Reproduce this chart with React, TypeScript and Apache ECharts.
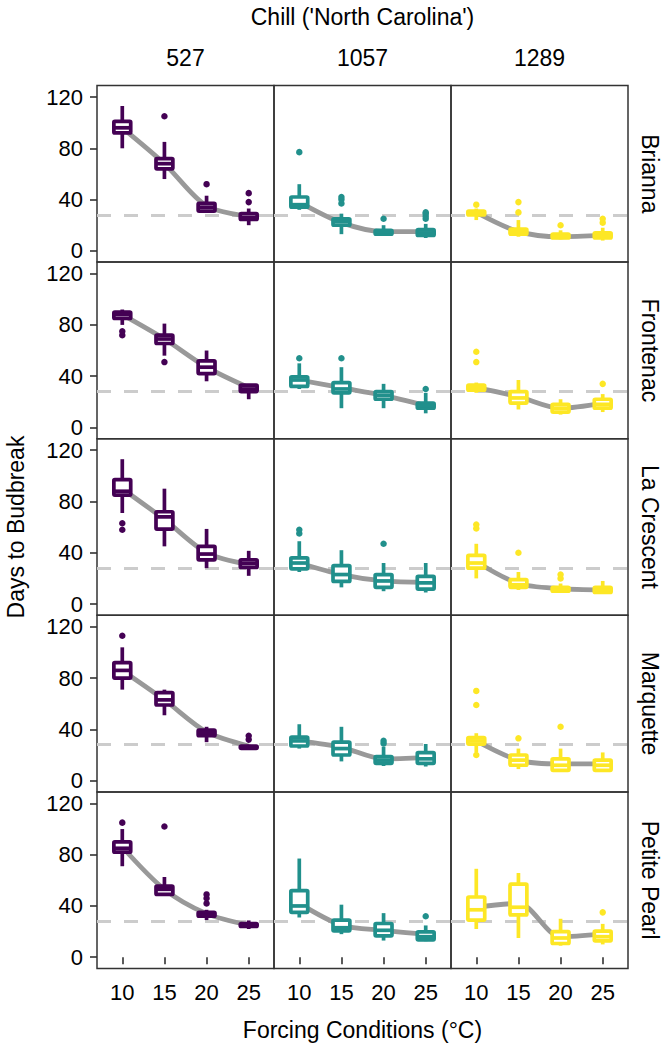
import React, { useEffect, useRef } from "react";
import * as echarts from "echarts";

const cultivars = ["Brianna", "Frontenac", "La Crescent", "Marquette", "Petite Pearl"];
const chills = ["527", "1057", "1289"];
const forcing = ["10", "15", "20", "25"];
const chillColors = ["#440154", "#21908C", "#FDE725"];
const yTicks = [0, 40, 80, 120];
const refDays = 28;

// box stats per panel: [min, q1, median, q3, max] for each forcing level; outer index = chill
const briannaBox = [
  [[80, 92, 96, 101, 113], [56, 64, 68, 72, 85], [30, 31, 34, 37, 43], [20, 24.5, 26, 29, 33]],
  [[32, 34, 36, 42, 52], [13, 20, 23, 25, 29], [12, 13, 15, 16, 20], [10, 12, 14, 16.5, 21]],
  [[24, 28, 30, 31, 33], [11, 13, 15, 17, 24], [9, 10, 11, 13, 16], [8, 10, 12, 14, 18]],
];
const briannaOut = [
  [["15", 105], ["20", 52], ["25", 38], ["25", 45]],
  [["10", 77], ["15", 37], ["15", 40], ["15", 42], ["20", 25], ["25", 25], ["25", 27], ["25", 29], ["25", 30]],
  [["10", 36], ["15", 30], ["15", 38], ["20", 20], ["25", 22], ["25", 25]],
];
const briannaLine = [[96, 68, 35, 27], [38, 22, 15, 15], [30, 15, 11, 12]];

const frontenacBox = [
  [[80, 85, 88, 90, 92], [56, 65.5, 69, 72, 81], [36, 42, 47, 52, 60], [22, 28, 30, 33, 33]],
  [[30, 32, 37, 39.5, 50], [15, 27, 30, 35, 47], [15, 22, 25, 28, 34], [11, 15, 17, 19, 27]],
  [[27, 29, 31, 33, 35], [14, 19, 23, 28, 37], [10, 12, 15, 18, 22], [12, 15, 18, 22, 26]],
];
const frontenacOut = [
  [["10", 72], ["10", 75], ["15", 51]],
  [["10", 54], ["15", 54], ["25", 30]],
  [["10", 51], ["10", 59], ["25", 34]],
];
const frontenacLine = [[88, 69, 47, 31], [37, 31, 25, 17], [31, 24, 15, 19]];

const laCrescentBox = [
  [[71, 85, 88, 97, 113], [45, 58.5, 68, 72, 90], [28, 34.5, 39, 45, 58.6], [22, 28.5, 31.5, 34.5, 41.5]],
  [[25, 27.5, 32, 36, 49], [13, 17.6, 23, 30, 42], [10, 13, 18, 23, 32], [9, 11.7, 16.5, 21.5, 32]],
  [[20, 28, 32, 38, 47], [11, 13, 15, 19, 25], [9, 10, 11, 13, 16], [8, 9, 11, 13, 18]],
];
const laCrescentOut = [
  [["10", 58], ["10", 63]],
  [["10", 55], ["10", 58], ["20", 47]],
  [["10", 59], ["10", 62], ["15", 40], ["20", 20], ["20", 23]],
];
const laCrescentLine = [[90, 66, 40, 31], [32, 23, 18, 17], [33, 16, 12, 11]];

const marquetteBox = [
  [[71, 80, 86, 92, 104], [51, 59, 63, 68.6, 71], [30, 35, 37.5, 39.5, 42], [24.5, 25.2, 26, 27, 28]],
  [[25, 27, 31, 34, 44], [15, 20, 25, 30, 42], [11.4, 13.5, 16, 18.7, 26.5], [11, 13.5, 17, 21.8, 28.6]],
  [[22, 28.5, 31, 33.5, 37], [9, 12, 16, 20, 25], [7, 8, 12, 17, 25], [7, 8, 12, 16, 22]],
];
const marquetteOut = [
  [["10", 113], ["25", 32], ["25", 35]],
  [["20", 29], ["20", 31]],
  [["10", 20], ["10", 59], ["10", 70], ["15", 33], ["20", 42]],
];
const marquetteLine = [[86, 63, 38, 27], [31, 26, 17, 18], [31, 16, 13, 13]];

const petitePearlBox = [
  [[71, 82, 85, 90, 100], [48, 49, 53, 55.5, 62.6], [29, 32, 33, 35, 37], [22, 24, 25, 26.3, 28.7]],
  [[31, 35, 40, 52, 77], [18, 20.6, 23, 29, 41], [13, 16.7, 21, 26.3, 34.4], [12.5, 13.6, 16, 19.8, 24.8]],
  [[22, 29, 37, 47, 69], [15, 33, 39, 57, 65.7], [9, 10.7, 15, 20, 30], [10, 12.8, 16, 20.3, 26]],
];
const petitePearlOut = [
  [["10", 105], ["15", 102], ["20", 42], ["20", 46], ["20", 49]],
  [["25", 32]],
  [["25", 35]],
];
const petitePearlLine = [[86, 53, 34, 25], [42, 25, 21, 18], [39, 42, 16, 18]];

const allBoxes = [briannaBox, frontenacBox, laCrescentBox, marquetteBox, petitePearlBox];
const allOut = [briannaOut, frontenacOut, laCrescentOut, marquetteOut, petitePearlOut];
const allLines = [briannaLine, frontenacLine, laCrescentLine, marquetteLine, petitePearlLine];

const FONT = "Liberation Sans";
const GRID_LEFT = 97;
const GRID_TOP = 85.5;
const PANEL_W = 177;
const PANEL_H = 176.6;
const BOX_W = 0.4;
const LW = 3.7;

function makeRender(color: string) {
  return (params: any, api: any) => {
    const x = api.value(0);
    const pLo = api.coord([x, api.value(1)]);
    const cx = pLo[0];
    const yLo = pLo[1];
    const yQ1 = api.coord([x, api.value(2)])[1];
    const yMed = api.coord([x, api.value(3)])[1];
    const yQ3 = api.coord([x, api.value(4)])[1];
    const yHi = api.coord([x, api.value(5)])[1];
    const half = api.size([BOX_W, 0])[0] / 2;
    const st = { stroke: color, lineWidth: LW, lineJoin: "round", lineCap: "butt" };
    return {
      type: "group",
      children: [
        { type: "line", shape: { x1: cx, y1: yHi, x2: cx, y2: yQ3 }, style: st },
        { type: "line", shape: { x1: cx, y1: yQ1, x2: cx, y2: yLo }, style: st },
        {
          type: "rect",
          shape: { x: cx - half, y: yQ3, width: half * 2, height: yQ1 - yQ3, r: 1 },
          style: { ...st, fill: "#ffffff" },
        },
        { type: "line", shape: { x1: cx - half, y1: yMed, x2: cx + half, y2: yMed }, style: st },
      ],
    };
  };
}

function buildOption() {
  const grids: any[] = [];
  const xAxes: any[] = [];
  const yAxes: any[] = [];
  const series: any[] = [];
  const graphics: any[] = [];

  cultivars.forEach((cv, r) => {
    chills.forEach((ch, c) => {
      const gi = r * 3 + c;
      grids.push({
        left: GRID_LEFT + c * PANEL_W,
        top: GRID_TOP + r * PANEL_H,
        width: PANEL_W,
        height: PANEL_H,
        show: true,
        borderColor: "#333333",
        borderWidth: 1.5,
        backgroundColor: "transparent",
        containLabel: false,
      });
      const bottomRow = r === cultivars.length - 1;
      xAxes.push({
        type: "value",
        gridIndex: gi,
        min: 0.4,
        max: 4.6,
        axisLine: { show: false },
        splitLine: { show: false },
        axisTick: {
          show: bottomRow,
          length: 7,
          customValues: [1, 2, 3, 4],
          lineStyle: { color: "#333333", width: 1.6 },
        },
        axisLabel: {
          show: bottomRow,
          customValues: [1, 2, 3, 4],
          formatter: (v: number) => forcing[Math.round(v) - 1] ?? "",
          fontSize: 22,
          fontFamily: FONT,
          color: "#000000",
          margin: 13,
        },
      });
      yAxes.push({
        type: "value",
        gridIndex: gi,
        min: -8.8,
        max: 129,
        axisLine: { show: false },
        splitLine: { show: false },
        axisTick: {
          show: c === 0,
          length: 7,
          customValues: yTicks,
          lineStyle: { color: "#333333", width: 1.6 },
        },
        axisLabel: {
          show: c === 0,
          customValues: yTicks,
          fontSize: 22,
          fontFamily: FONT,
          color: "#000000",
          margin: 14,
        },
      });
      const color = chillColors[c];
      series.push({
        type: "line",
        xAxisIndex: gi,
        yAxisIndex: gi,
        data: allLines[r][c].map((v, i) => [i + 1, v]),
        smooth: 0.3,
        showSymbol: false,
        symbol: "none",
        z: 2,
        lineStyle: { color: "#999999", width: 4.8 },
        silent: true,
        markLine: {
          silent: true,
          z: 1,
          symbol: ["none", "none"],
          label: { show: false },
          lineStyle: { color: "#cccccc", width: 3, type: [14, 13] },
          data: [{ yAxis: refDays }],
        },
      });
      series.push({
        type: "custom",
        xAxisIndex: gi,
        yAxisIndex: gi,
        z: 3,
        renderItem: makeRender(color),
        encode: { x: 0, y: [1, 2, 3, 4, 5] },
        data: allBoxes[r][c].map((b, i) => [i + 1, ...b]),
        silent: true,
      });
      series.push({
        type: "scatter",
        xAxisIndex: gi,
        yAxisIndex: gi,
        z: 4,
        symbolSize: 6.5,
        itemStyle: { color, opacity: 1 },
        data: allOut[r][c].map(([f, v]) => [forcing.indexOf(f as string) + 1, v]),
        silent: true,
      });
    });
  });

  const panelsRight = GRID_LEFT + PANEL_W * 3;
  const panelsBottom = GRID_TOP + PANEL_H * cultivars.length;
  const centerX = GRID_LEFT + (PANEL_W * 3) / 2;

  graphics.push({
    type: "text",
    x: centerX,
    y: 17,
    style: { text: "Chill ('North Carolina')", fontSize: 23, fontFamily: FONT, fill: "#000", align: "center", verticalAlign: "middle" },
  });
  chills.forEach((ch, c) => {
    graphics.push({
      type: "text",
      x: GRID_LEFT + c * PANEL_W + PANEL_W / 2,
      y: 58,
      style: { text: ch, fontSize: 23, fontFamily: FONT, fill: "#000", align: "center", verticalAlign: "middle" },
    });
  });
  cultivars.forEach((cv, r) => {
    graphics.push({
      type: "text",
      x: panelsRight + 22,
      y: GRID_TOP + r * PANEL_H + PANEL_H / 2,
      rotation: -Math.PI / 2,
      style: { text: cv, fontSize: 23, fontFamily: FONT, fill: "#000", align: "center", verticalAlign: "middle" },
    });
  });
  graphics.push({
    type: "text",
    x: 16,
    y: GRID_TOP + (PANEL_H * cultivars.length) / 2,
    rotation: Math.PI / 2,
    style: { text: "Days to Budbreak", fontSize: 23, fontFamily: FONT, fill: "#000", align: "center", verticalAlign: "middle" },
  });
  graphics.push({
    type: "text",
    x: centerX,
    y: panelsBottom + 61,
    style: { text: "Forcing Conditions (°C)", fontSize: 23, fontFamily: FONT, fill: "#000", align: "center", verticalAlign: "middle" },
  });

  return {
    animation: false,
    backgroundColor: "#ffffff",
    grid: grids,
    xAxis: xAxes,
    yAxis: yAxes,
    series,
    graphic: graphics,
  };
}

export default function App() {
  const ref = useRef<HTMLDivElement>(null);
  useEffect(() => {
    if (!ref.current) return;
    const chart = echarts.init(ref.current, null, { renderer: "svg" });
    chart.setOption(buildOption() as any);
    return () => chart.dispose();
  }, []);
  return (
    <div
      ref={ref}
      style={{ position: "absolute", left: 0, top: 0, width: 669, height: 1044, background: "#fff" }}
    />
  );
}
